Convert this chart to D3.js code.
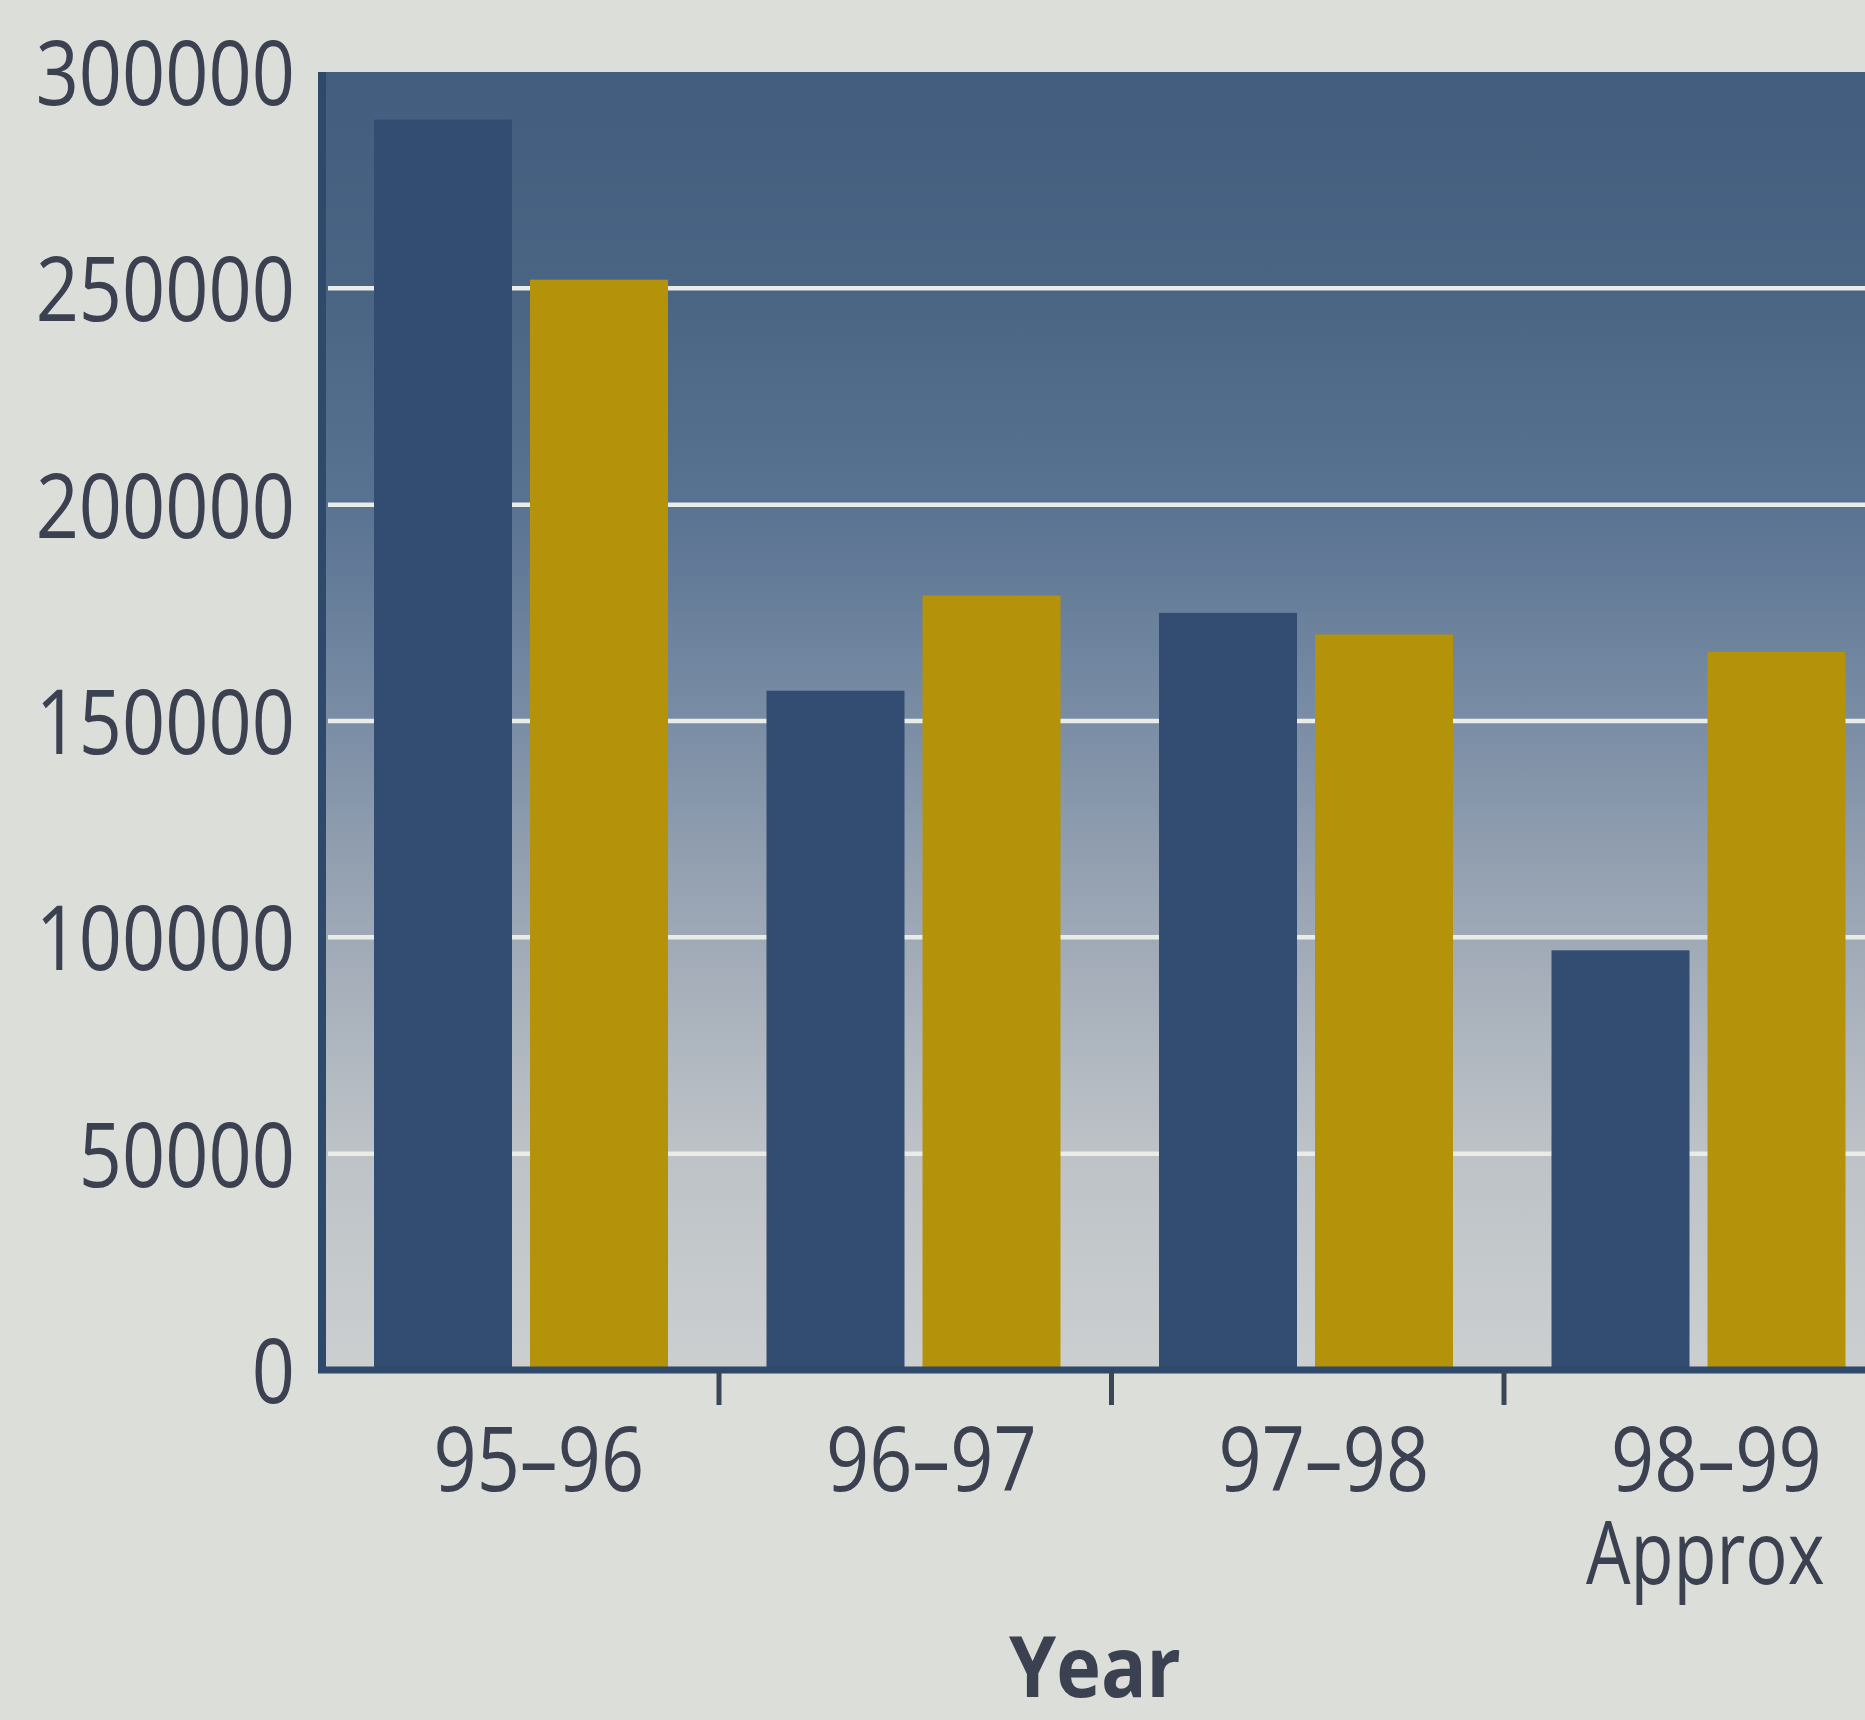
<!DOCTYPE html>
<html>
<head>
<meta charset="utf-8">
<script src="https://cdn.jsdelivr.net/npm/d3@7/dist/d3.min.js"></script>
<style>
  html, body { margin: 0; padding: 0; background: #dcdfd9; }
  svg { display: block; }
  text { font-family: "Open Sans", "Noto Sans", sans-serif; fill: #3b4150; }
</style>
</head>
<body>
<svg id="chart" width="1865" height="1720"></svg>
<script>
// Yearly totals, two series per year
const years = ["95–96", "96–97", "97–98", "98–99"];
const yearNotes = ["", "", "", "Approx"];
const firstSeries = [289000, 157000, 175000, 97000];
const secondSeries = [252000, 179000, 170000, 166000];
const yTicks = [0, 50000, 100000, 150000, 200000, 250000, 300000];
const xTitle = "Year";

const W = 1865, H = 1720;
const plot = { left: 318, top: 72, right: 1865, bottom: 1370 };
const textScale = 0.84;

const svg = d3.select("#chart");

const rows = years.map((y, i) => ({ year: y, values: [
  { key: "first", value: firstSeries[i] },
  { key: "second", value: secondSeries[i] }
]}));

const y = d3.scaleLinear().domain([0, 300000]).range([plot.bottom, plot.top]);
const step = 392.5;
const x0 = d3.scaleBand().domain(years)
  .range([326.5, 326.5 + step * years.length]).paddingInner(0).paddingOuter(0);
const x1 = d3.scaleBand().domain(["first", "second"])
  .range([47.5, 341.5]).paddingInner(0.1154).paddingOuter(0);
const color = d3.scaleOrdinal().domain(["first", "second"]).range(["#334c71", "#b4930a"]);

// Plot background: dark blue at the top fading to pale grey at the baseline
const defs = svg.append("defs");
const grad = defs.append("linearGradient").attr("id", "bg")
  .attr("gradientUnits", "userSpaceOnUse")
  .attr("x1", 0).attr("x2", 0).attr("y1", plot.top).attr("y2", plot.bottom);
[[0, "#425d7d"], [0.17, "#4a6584"], [0.33, "#587291"], [0.5, "#7a8da5"],
 [0.67, "#a0aab7"], [0.83, "#bdc2c7"], [1, "#cbcfd0"]]
  .forEach(([o, c]) => grad.append("stop").attr("offset", o).attr("stop-color", c));

svg.append("rect")
  .attr("x", plot.left).attr("y", plot.top)
  .attr("width", plot.right - plot.left).attr("height", plot.bottom - plot.top)
  .attr("fill", "url(#bg)");

// Horizontal gridlines behind the bars
svg.append("g").selectAll("line")
  .data(yTicks.filter(t => t > 0 && t < 300000))
  .join("line")
  .attr("x1", plot.left + 10).attr("x2", plot.right)
  .attr("y1", d => y(d)).attr("y2", d => y(d))
  .attr("stroke", "#e9ece7").attr("stroke-width", 4.5);

// Grouped bars
const groups = svg.append("g").selectAll("g")
  .data(rows).join("g")
  .attr("transform", d => `translate(${x0(d.year)},0)`);
groups.selectAll("rect")
  .data(d => d.values).join("rect")
  .attr("x", d => x1(d.key))
  .attr("width", x1.bandwidth())
  .attr("y", d => y(d.value))
  .attr("height", d => y(0) - y(d.value))
  .attr("fill", d => color(d.key));

// Axis lines
svg.append("line")
  .attr("x1", plot.left + 4).attr("x2", plot.left + 4)
  .attr("y1", plot.top).attr("y2", plot.bottom + 3)
  .attr("stroke", "#2f496a").attr("stroke-width", 8);
svg.append("line")
  .attr("x1", plot.left).attr("x2", plot.right)
  .attr("y1", plot.bottom).attr("y2", plot.bottom)
  .attr("stroke", "#2f496a").attr("stroke-width", 7);

// Y axis labels
const yAxis = svg.append("g")
  .attr("transform", `translate(${plot.left},0)`)
  .call(d3.axisLeft(y).tickValues(yTicks).tickSize(0).tickFormat(d3.format("d")));
yAxis.select(".domain").remove();
yAxis.selectAll("text")
  .attr("x", null)
  .attr("transform", `translate(-23,0) scale(${textScale},1)`)
  .attr("dy", "0.36em")
  .style("font-size", "90px")
  .style("fill", "#3b4150");

// Separator ticks between year groups
svg.append("g").selectAll("line")
  .data(years.slice(1))
  .join("line")
  .attr("x1", d => x0(d)).attr("x2", d => x0(d))
  .attr("y1", plot.bottom).attr("y2", plot.bottom + 35)
  .attr("stroke", "#3a4658").attr("stroke-width", 5);

// X axis labels
const xAxis = svg.append("g")
  .attr("transform", `translate(0,${plot.bottom})`)
  .call(d3.axisBottom(x0).tickSize(0).tickFormat(() => ""));
xAxis.select(".domain").remove();
xAxis.selectAll(".tick").each(function(d, i) {
  const t = d3.select(this);
  t.select("text").remove();
  t.append("text")
    .attr("text-anchor", "middle")
    .attr("transform", `translate(16,121) scale(${textScale},1)`)
    .style("font-size", "90px")
    .text(d);
  if (yearNotes[i]) {
    t.append("text")
      .attr("text-anchor", "middle")
      .attr("transform", `translate(5,214) scale(0.8,1)`)
      .style("font-size", "88px")
      .text(yearNotes[i]);
  }
});

// Axis title
svg.append("text")
  .attr("text-anchor", "middle")
  .attr("transform", `translate(1095,1697) scale(0.9,1)`)
  .style("font-size", "84px")
  .style("font-weight", "700")
  .text(xTitle);
</script>
</body>
</html>
